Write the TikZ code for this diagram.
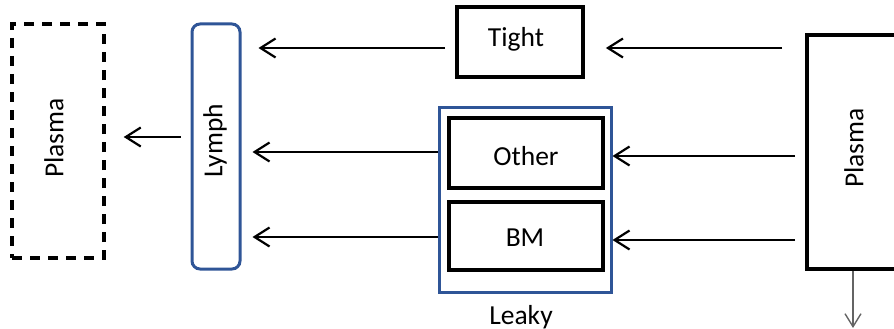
\documentclass[tikz,border=0pt]{standalone}
\usepackage{fontspec}
\setmainfont{Carlito}
\usetikzlibrary{arrows.meta}
\definecolor{boxblue}{RGB}{47,85,151}
\definecolor{arrgray}{RGB}{100,100,100}
\begin{document}
\begin{tikzpicture}[x=1pt,y=-1pt,
  every node/.style={font=\fontsize{27.5}{32}\selectfont, inner sep=0pt},
  bbox/.style={draw=black, line width=3.8pt, rectangle},
  bluebox/.style={draw=boxblue, line width=3pt, rectangle},
  arr/.style={draw=black, line width=2.2pt, -{Straight Barb[length=15pt,width=19pt,line width=2.2pt]}},
  garr/.style={draw=arrgray, line width=1.4pt, -{Straight Barb[length=13pt,width=16pt,line width=1.4pt]}}]
\useasboundingbox (0,0) rectangle (894,329);
\node[bbox, dashed, dash pattern=on 10pt off 8pt, line width=3.4pt, minimum width=92pt, minimum height=234pt] (plasmaL) at (58,141) {};
\node[rotate=90] at (54,138) {Plasma};
\node[bluebox, rounded corners=8pt, minimum width=48pt, minimum height=245pt] (lymph) at (216,146.5) {};
\node[rotate=90] at (215,141) {Lymph};
\node[bbox, minimum width=126pt, minimum height=70pt] (tight) at (520,42) {};
\node at (516,39) {Tight};
\node[bluebox, minimum width=172pt, minimum height=185pt] (leaky) at (525,199.5) {};
\node[bbox, minimum width=154pt, minimum height=70pt] (other) at (526,153) {};
\node at (526,156) {Other};
\node[bbox, minimum width=154pt, minimum height=68pt] (bm) at (526,236) {};
\node at (525,238) {BM};
\node (leakylbl) at (521,317) {Leaky};
\node[bbox, minimum width=92pt, minimum height=234pt] (plasmaR) at (853,152) {};
\node[rotate=90] at (854,148) {Plasma};
\coordinate (topsrc) at (782,48);
\coordinate (bottom) at (853,328);
% arrows
\draw[arr, shorten >=21pt] (topsrc) -- (topsrc -| tight.east);
\draw[arr, shorten <=10pt, shorten >=17pt] ([yshift=-6pt]tight.west) -- ([yshift=-6pt]tight.west -| lymph.east);
\draw[arr, shorten <=10pt] ([yshift=-3pt]plasmaR.west |- other.center) -- ([yshift=-3pt]leaky.east |- other.center);
\draw[arr, shorten <=10pt] ([yshift=-4pt]plasmaR.west |- bm.center) -- ([yshift=-4pt]leaky.east |- bm.center);
\draw[arr, shorten >=11pt] ([yshift=1pt]leaky.west |- other.center) -- ([yshift=1pt]lymph.east |- other.center);
\draw[arr, shorten >=11pt] ([yshift=-1pt]leaky.west |- bm.center) -- ([yshift=-1pt]lymph.east |- bm.center);
\draw[arr, shorten <=10pt, shorten >=18pt] ([yshift=9.5pt]lymph.west) -- ([yshift=9.5pt]lymph.west -| plasmaL.east);
\draw[garr] (plasmaR.south) -- (bottom);
\end{tikzpicture}
\end{document}
